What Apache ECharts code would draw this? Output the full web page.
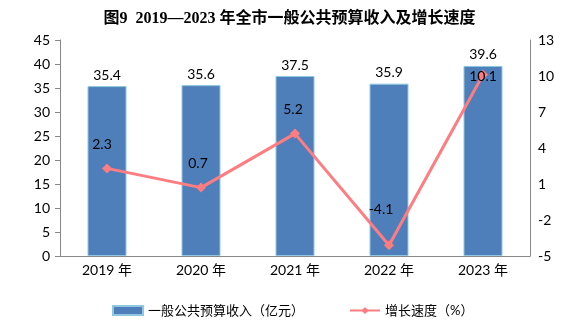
<!DOCTYPE html>
<html><head><meta charset="utf-8">
<script src="https://cdn.jsdelivr.net/npm/echarts@6/dist/echarts.min.js"></script>
<style>html,body{margin:0;padding:0;background:#fff}#c{width:579px;height:330px}</style>
</head><body><div id="c"></div>
<script>
const categories = ['2019年','2020年','2021年','2022年','2023年'];
const revenue = [35.4, 35.6, 37.5, 35.9, 39.6];
const growth = [2.3, 0.7, 5.2, -4.1, 10.1];
const leftTicks = [0,5,10,15,20,25,30,35,40,45];
const rightTicks = [-5,-2,1,4,7,10,13];
const growthLabelOffsets = [[-5,0],[-3,0],[-2,0],[-8,-12],[0,26]];

const font = 'Lato, "Noto Sans CJK SC", sans-serif';
const chart = echarts.init(document.getElementById('c'), null, {renderer:'canvas'});
chart.setOption({
  animation:false,
  title:{text:'图9  2019—2023 年全市一般公共预算收入及增长速度', left:'center', top:6,
    textStyle:{fontSize:16, fontWeight:'bold', color:'#000', fontFamily:'"Liberation Serif", "Noto Sans CJK SC", serif'}},
  grid:{left:60, right:49, top:40, bottom:74},
  legend:{bottom:8, left:107, itemGap:45, itemWidth:30, itemHeight:9,
    textStyle:{fontSize:13, color:'#000', fontFamily:font},
    data:[{name:'一般公共预算收入（亿元）', icon:'rect'},{name:'增长速度（%）'}]},
  xAxis:{type:'category', data:categories,
    axisLine:{lineStyle:{color:'#888'}}, axisTick:{show:false},
    axisLabel:{fontSize:14, color:'#000', fontFamily:font, margin:7, formatter:v=>v.replace('年',' 年')}},
  yAxis:[
    {type:'value', min:0, max:45, interval:5, splitLine:{show:false},
      axisLine:{show:true, lineStyle:{color:'#888'}}, axisTick:{show:true, length:5, lineStyle:{color:'#888'}},
      axisLabel:{fontSize:14, color:'#000', fontFamily:font, margin:10}},
    {type:'value', min:-5, max:13, interval:3, splitLine:{show:false},
      axisLine:{show:true, lineStyle:{color:'#888'}}, axisTick:{show:false},
      axisLabel:{fontSize:14, color:'#000', fontFamily:font, margin:8}}
  ],
  series:[
    {name:'一般公共预算收入（亿元）', type:'bar', data:revenue, barWidth:39,
      itemStyle:{color:'#4f7fba', borderColor:'#8fc8e0', borderWidth:1},
      label:{show:true, position:'top', fontSize:14, color:'#000', fontFamily:font, distance:4}},
    {name:'增长速度（%）', type:'line', yAxisIndex:1,
      data:growth.map((v,i)=>({value:v, label:{offset:growthLabelOffsets[i]}})),
      symbol:'diamond', symbolSize:10,
      lineStyle:{color:'#ff7c80', width:3}, itemStyle:{color:'#ff7c80'},
      label:{show:true, position:'top', distance:12, fontSize:14, color:'#000', fontFamily:font}}
  ]
});
</script></body></html>
